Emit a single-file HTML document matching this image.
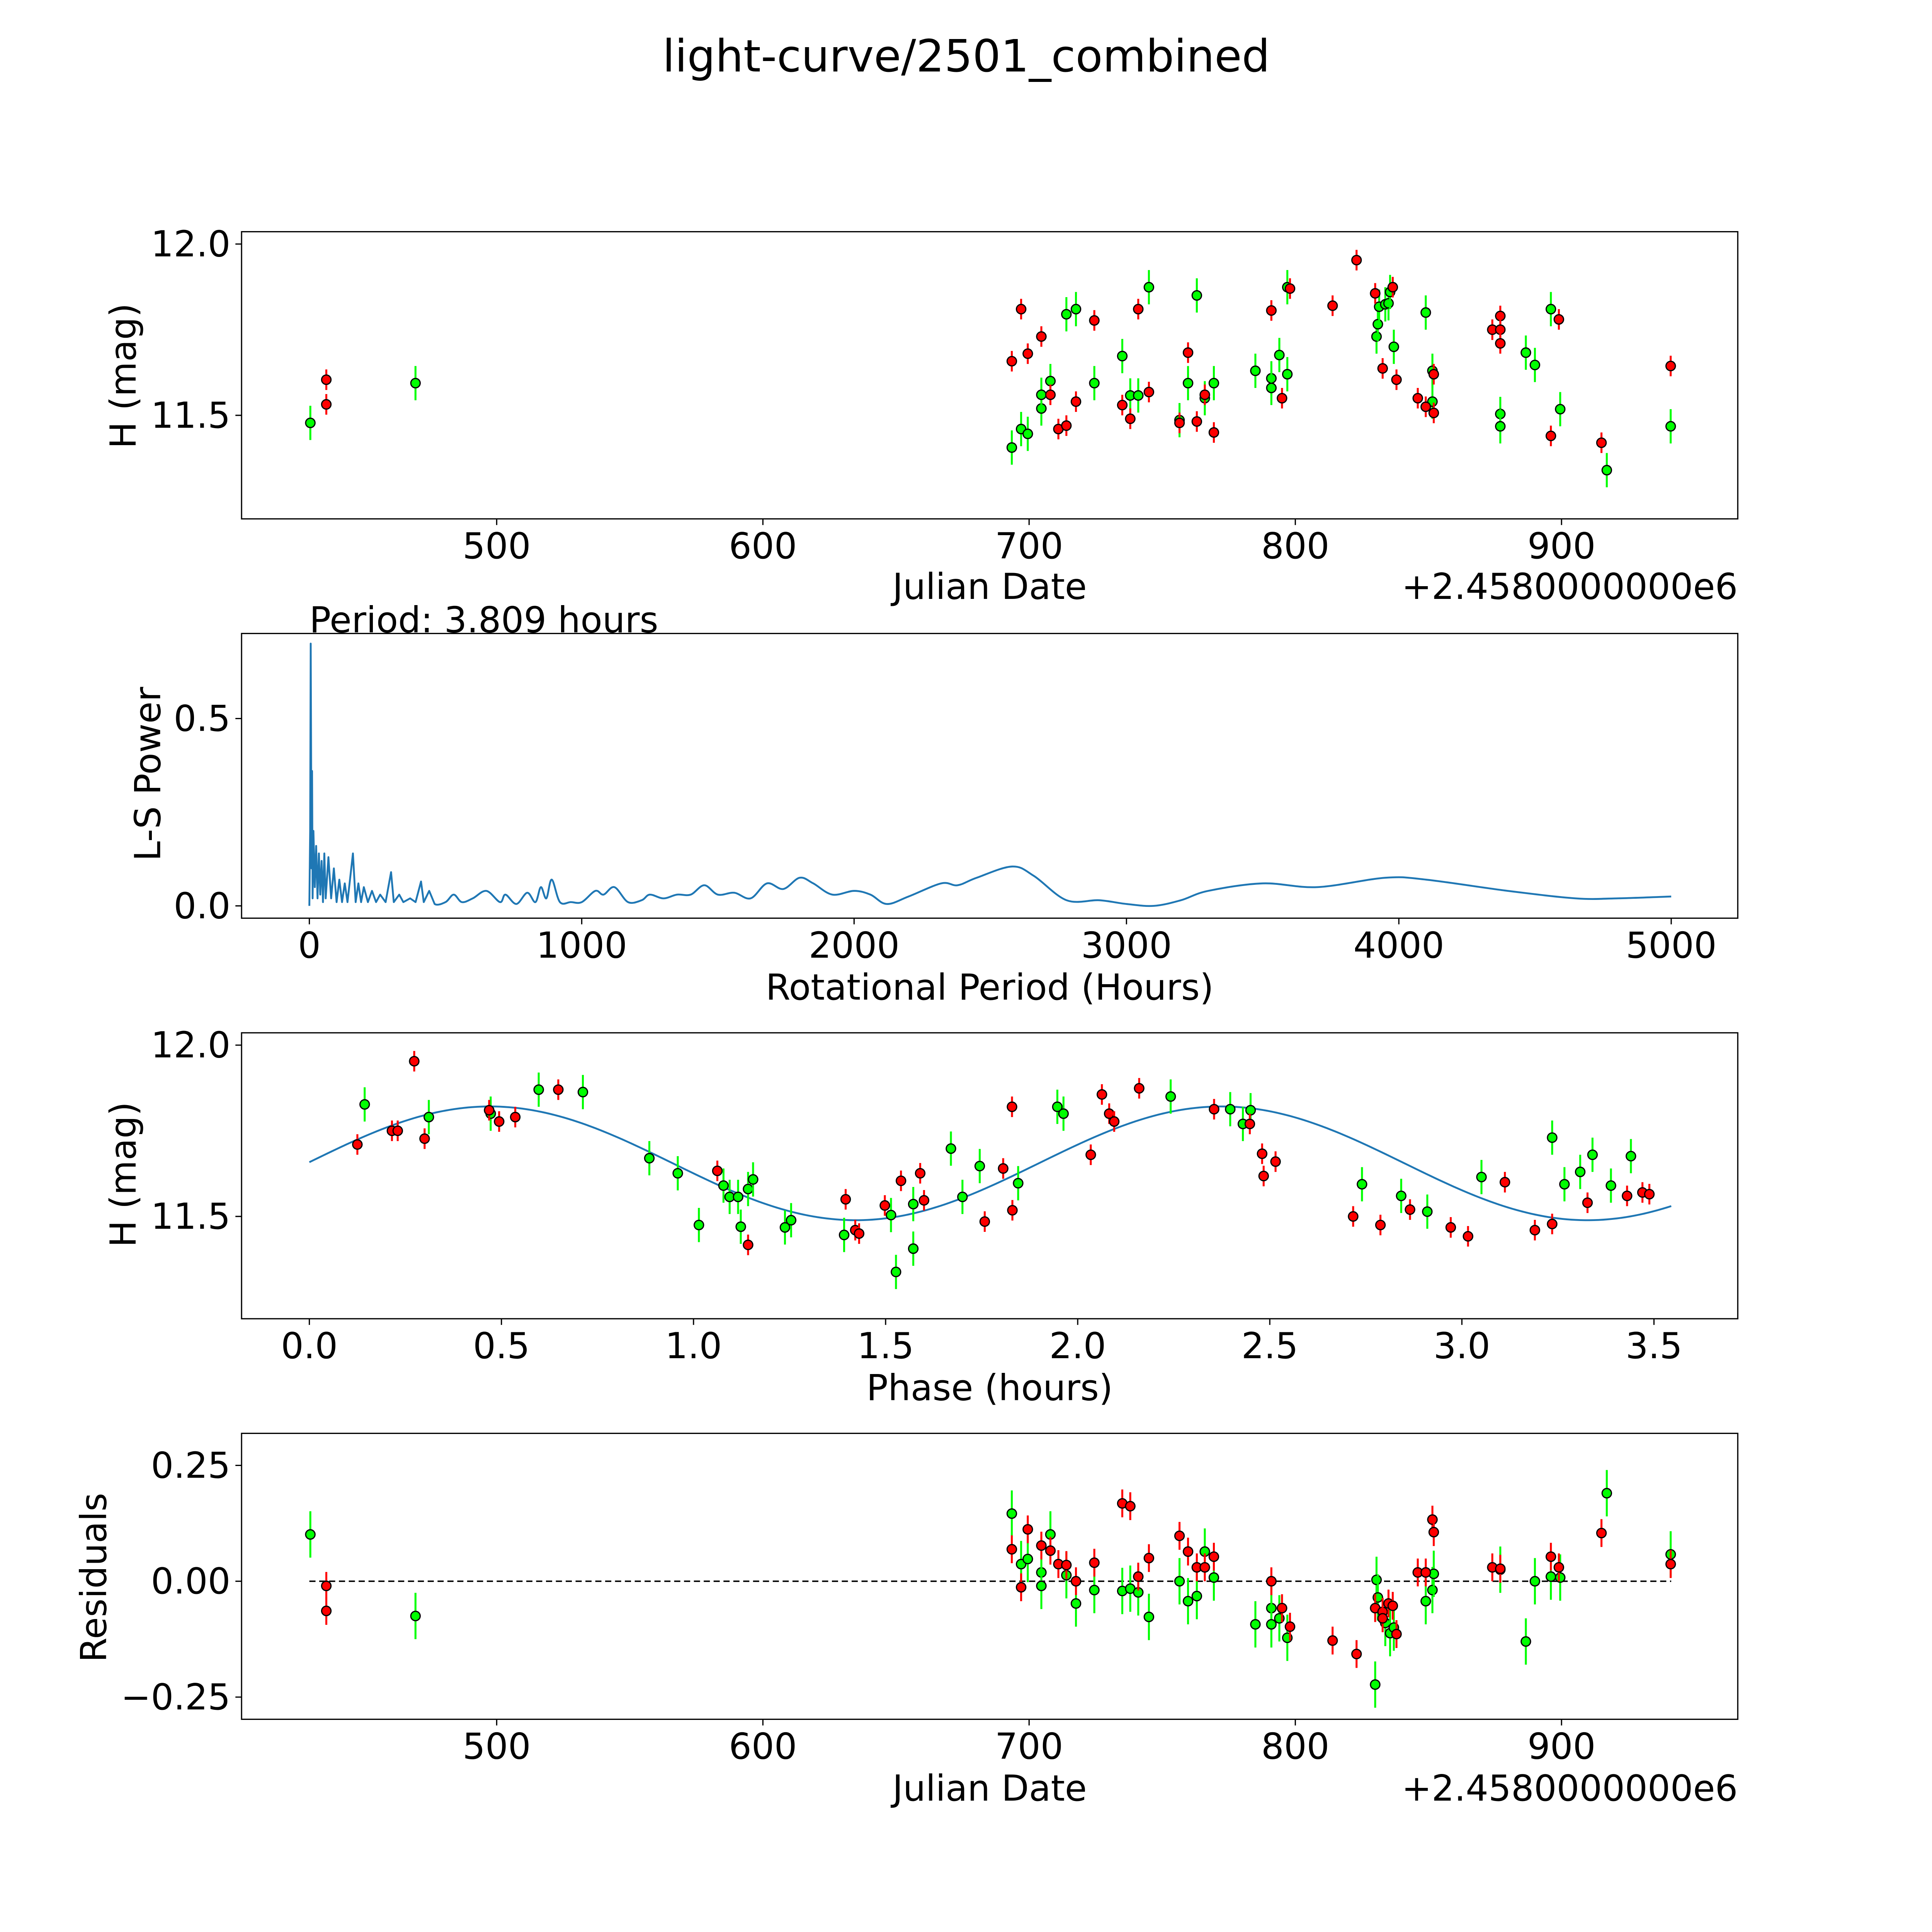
<!DOCTYPE html>
<html><head><meta charset="utf-8">
<style>
html,body{margin:0;padding:0;background:#fff;overflow:hidden;}
svg{display:block;}
text{font-family:"DejaVu Sans","Liberation Sans",sans-serif;fill:#000;}
</style></head>
<body>
<svg id="fig" width="5400" height="5400" viewBox="0 0 1693 1693" preserveAspectRatio="xMinYMin meet" xmlns="http://www.w3.org/2000/svg">
<rect width="1693" height="1693" fill="#fff"/>
<text x="784" y="58" font-size="36" text-anchor="middle">light-curve/2501_combined</text>
<g id="g1"></g>
<g id="g2"></g>
<g id="g3"></g>
<g id="g4"></g>
</svg>
<script>
const lcRedJd=[436,436,693.5,697,699.5,704.6,708,711,714,717.6,724.5,735,738,741,745,756.5,759.7,763,766,769.4,791,795,798,814,823,830,832.8,836.6,838,846,849,852,852,874,877,877,877,896,899,915,941];
const lcRedMag=[11.604,11.532,11.658,11.81,11.68,11.73,11.56,11.46,11.47,11.54,11.777,11.53,11.49,11.81,11.568,11.478,11.683,11.482,11.56,11.45,11.806,11.55,11.87,11.82,11.953,11.856,11.637,11.874,11.604,11.55,11.525,11.62,11.507,11.75,11.79,11.75,11.71,11.44,11.78,11.42,11.644];
const lcGreenJd=[430,469.5,693.5,697,699.5,704.6,704.6,708,714,717.6,724.5,735,738,741,745,756.5,759.7,763,766,769.4,785,791,791,794,797,797,830.5,831,831.5,833.8,835,835.6,837,849,851.5,851.5,877,877,886.6,890,896,899.5,917,941];
const lcGreenMag=[11.478,11.594,11.406,11.46,11.446,11.52,11.56,11.60,11.795,11.81,11.594,11.673,11.558,11.558,11.874,11.486,11.594,11.85,11.55,11.594,11.63,11.608,11.58,11.676,11.62,11.874,11.73,11.766,11.817,11.824,11.827,11.86,11.70,11.80,11.63,11.54,11.504,11.468,11.683,11.647,11.81,11.518,11.34,11.468];
const phRedP=[.125,.215,.23,.273,.30,.468,.494,.536,.648,1.062,1.142,1.396,1.421,1.431,1.498,1.54,1.59,1.6,1.758,1.806,1.829,1.83,2.034,2.063,2.082,2.095,2.16,2.355,2.448,2.48,2.484,2.515,2.717,2.788,2.865,2.971,3.016,3.112,3.19,3.235,3.327,3.43,3.47,3.488];
const phRedMag=[11.71,11.75,11.75,11.953,11.727,11.81,11.777,11.79,11.87,11.633,11.417,11.55,11.46,11.45,11.532,11.604,11.626,11.547,11.485,11.64,11.82,11.518,11.68,11.856,11.80,11.777,11.874,11.813,11.77,11.683,11.618,11.66,11.5,11.475,11.52,11.468,11.442,11.60,11.46,11.478,11.54,11.56,11.57,11.565];
const phGreenP=[.144,.311,.472,.597,.712,.885,.959,1.014,1.078,1.094,1.116,1.123,1.142,1.155,1.238,1.254,1.392,1.514,1.527,1.572,1.572,1.67,1.70,1.745,1.845,1.947,1.963,2.242,2.397,2.43,2.45,2.74,2.842,2.91,3.051,3.235,3.267,3.308,3.34,3.388,3.44];
const phGreenMag=[11.827,11.79,11.80,11.87,11.863,11.67,11.626,11.475,11.59,11.557,11.557,11.47,11.58,11.608,11.468,11.489,11.446,11.504,11.338,11.406,11.536,11.698,11.557,11.647,11.597,11.82,11.80,11.85,11.813,11.77,11.81,11.594,11.56,11.514,11.615,11.73,11.594,11.63,11.68,11.59,11.676];
const resRedJd=[436,436,693.5,697,699.5,704.6,708,711,714,717.6,724.5,735,738,741,745,756.5,759.7,763,766,769.4,791,795,798,814,823,830,832.8,832.8,835,836.6,838,846,849,851.5,852,874,877,896,899,915,941];
const resRedVal=[-0.01,-0.064,0.069,-0.013,0.112,0.077,0.066,0.037,0.035,0,0.04,0.168,0.162,0.01,0.05,0.098,0.064,0.03,0.03,0.053,0,-0.058,-0.098,-0.128,-0.157,-0.058,-0.066,-0.08,-0.048,-0.053,-0.114,0.019,0.019,0.133,0.106,0.03,0.027,0.053,0.03,0.104,0.037];
const resGreenJd=[430,469.5,693.5,697,699.5,704.6,704.6,708,714,717.6,724.5,735,738,741,745,756.5,759.7,763,766,769.4,785,791,791,794,797,830,830.5,831,833.8,835.6,837,849,851.5,852,877,886.6,890,896,899.5,917,941];
const resGreenVal=[0.101,-0.075,0.146,0.037,0.048,0.019,-0.01,0.101,0.013,-0.048,-0.019,-0.021,-0.016,-0.024,-0.077,0,-0.043,-0.032,0.064,0.008,-0.093,-0.058,-0.093,-0.08,-0.122,-0.223,0.003,-0.035,-0.09,-0.112,-0.1,-0.043,-0.019,0.016,0.025,-0.13,0,0.01,0.008,0.19,0.058];
const lsPeriod=[0,3,5,8,10,12,15,20,25,30,35,40,45,50,55,60,70,80,90,100,110,120,130,140,160,170,180,190,200,215,230,245,260,280,300,310,330,345,370,390,410,420,440,460,500,530,560,600,650,700,720,760,800,830,850,870,890,920,960,1000,1050,1080,1120,1170,1220,1250,1300,1350,1400,1450,1500,1560,1620,1680,1740,1800,1850,1920,2000,2060,2120,2200,2320,2380,2450,2580,2660,2780,2900,3000,3100,3200,3300,3500,3700,3950,4100,4400,4650,4800,5000];
const lsPower=[0,0.2,0.70,0.1,0.36,0.02,0.2,0.05,0.16,0.02,0.14,0.03,0.12,0.01,0.14,0.02,0.13,0.02,0.1,0.01,0.07,0.01,0.06,0.01,0.14,0.01,0.06,0.01,0.05,0.01,0.04,0.01,0.03,0.01,0.09,0.01,0.03,0.01,0.02,0.01,0.065,0.01,0.04,0.005,0.01,0.03,0.01,0.02,0.04,0.01,0.03,0.005,0.035,0.01,0.05,0.02,0.07,0.01,0.01,0.01,0.04,0.03,0.05,0.01,0.015,0.03,0.02,0.03,0.03,0.055,0.03,0.035,0.02,0.06,0.045,0.075,0.06,0.03,0.04,0.03,0.005,0.025,0.06,0.055,0.075,0.105,0.08,0.015,0.015,0.005,0.0,0.015,0.04,0.06,0.05,0.075,0.07,0.04,0.02,0.02,0.025];
const jdTicks=[500,600,700,800,900];
const magTicks=[11.5,12.0];
const lsXTicks=[0,1000,2000,3000,4000,5000];
const lsYTicks=[0.0,0.5];
const phTicks=[0.0,0.5,1.0,1.5,2.0,2.5,3.0,3.5];
const resTicks=[-0.25,0,0.25];
const errRed=0.03, errGreen=0.05;
const fitMean=11.655, fitAmp=0.166, fitHalfPeriod=1.9045, fitPhase=0.02, fitEnd=3.545;

const NS='http://www.w3.org/2000/svg';
const FS=29;
function mk(p,tag,at){const e=document.createElementNS(NS,tag);for(const k in at)e.setAttribute(k,at[k]);p.appendChild(e);return e;}
function lin(d0,d1,r0,r1){return v=>r0+(v-d0)*(r1-r0)/(d1-d0);}
const L=196,R=1410;
function frame(g,top,bot){const r=mk(g,'rect',{x:L,y:top,width:R-L,height:bot-top,fill:'none',stroke:'#000','stroke-width':1});
}
function xticks(g,ticks,sx,bot,fmt,name){ticks.forEach(t=>{const x=sx(t);mk(g,'line',{x1:x,x2:x,y1:bot,y2:bot+5,stroke:'#000'});
const tx=mk(g,'text',{x:x,y:bot+32,'font-size':FS,'text-anchor':'middle'});tx.textContent=fmt(t);
});}
function yticks(g,ticks,sy,fmt,name){ticks.forEach(t=>{const y=sy(t);mk(g,'line',{x1:L-5,x2:L,y1:y,y2:y,stroke:'#000'});
const tx=mk(g,'text',{x:L-9,y:y+10,'font-size':FS,'text-anchor':'end'});tx.textContent=fmt(t);
});}
function label(g,txt,x,y,rot,name,anchor){const t=mk(g,'text',{x:x,y:y,'font-size':FS,'text-anchor':anchor||'middle'});
if(rot)t.setAttribute('transform','rotate(-90 '+x+' '+y+')');t.textContent=txt;
}
function pts(g,xs,ys,sx,sy,err,col,name){xs.forEach((v,i)=>{const x=sx(v),y=sy(ys[i]);
const l=mk(g,'line',{x1:x,x2:x,y1:sy(ys[i]-err),y2:sy(ys[i]+err),stroke:col,'stroke-width':1.6});

const c=mk(g,'circle',{cx:x,cy:y,r:3.8,fill:col,stroke:'#000','stroke-width':1});
});}
const fmtMag=v=>v.toFixed(1);
const RED='#ff0000',GRN='#00ff00';

(function(){const g=document.getElementById('g1');const top=188,bot=421;
const sx=lin(500,900,403,1267),sy=lin(12.0,11.5,198,337);
frame(g,top,bot);xticks(g,jdTicks,sx,bot,String,'x-tick-label');yticks(g,magTicks,sy,fmtMag,'y-tick-label');
pts(g,lcGreenJd,lcGreenMag,sx,sy,errGreen,GRN,'green-obs');pts(g,lcRedJd,lcRedMag,sx,sy,errRed,RED,'red-obs');
label(g,'Julian Date',803,486,false,'x-axis-title');label(g,'+2.4580000000e6',R,486,false,'x-offset-label','end');
label(g,'H (mag)',110,305,true,'y-axis-title');})();

(function(){const g=document.getElementById('g2');const top=514,bot=745;
const sx=lin(0,5000,251,1356),sy=lin(0,0.5,735,583);
frame(g,top,bot);xticks(g,lsXTicks,sx,bot,String,'x-tick-label');yticks(g,lsYTicks,sy,fmtMag,'y-tick-label');
const px=lsPeriod.map(sx),py=lsPower.map(sy);
let d='M'+px[0].toFixed(2)+' '+py[0].toFixed(2);
for(let i=0;i<px.length-1;i++){
  if(lsPeriod[i]<450){d+=' L'+px[i+1].toFixed(2)+' '+py[i+1].toFixed(2);continue;}
  const p0=i>0?i-1:i,p3=i+2<px.length?i+2:i+1;
  const c1x=px[i]+(px[i+1]-px[p0])/6,c1y=py[i]+(py[i+1]-py[p0])/6;
  const c2x=px[i+1]-(px[p3]-px[i])/6,c2y=py[i+1]-(py[p3]-py[i])/6;
  d+=' C'+c1x.toFixed(2)+' '+c1y.toFixed(2)+' '+c2x.toFixed(2)+' '+c2y.toFixed(2)+' '+px[i+1].toFixed(2)+' '+py[i+1].toFixed(2);}
const pa=mk(g,'path',{d:d,fill:'none',stroke:'#1f77b4','stroke-width':1.5,'stroke-linejoin':'round'});

label(g,'Rotational Period (Hours)',803,811,false,'x-axis-title');label(g,'L-S Power',130,628,true,'y-axis-title');
label(g,'Period: 3.809 hours',251,513,false,'period-annotation','start');})();

(function(){const g=document.getElementById('g3');const top=838,bot=1070;
const sx=lin(0,3.5,251,1342),sy=lin(12.0,11.5,848,987);
frame(g,top,bot);xticks(g,phTicks,sx,bot,v=>v.toFixed(1),'x-tick-label');yticks(g,magTicks,sy,fmtMag,'y-tick-label');
let d='';for(let i=0;i<=300;i++){const p=fitEnd*i/300;const m=fitMean+fitAmp*Math.sin(2*Math.PI*p/fitHalfPeriod+fitPhase);
d+=(i?'L':'M')+sx(p).toFixed(2)+' '+sy(m).toFixed(2)+' ';}
const pa=mk(g,'path',{d:d,fill:'none',stroke:'#1f77b4','stroke-width':1.5});

pts(g,phGreenP,phGreenMag,sx,sy,errGreen,GRN,'green-phase');pts(g,phRedP,phRedMag,sx,sy,errRed,RED,'red-phase');
label(g,'Phase (hours)',803,1136,false,'x-axis-title');label(g,'H (mag)',110,953,true,'y-axis-title');})();

(function(){const g=document.getElementById('g4');const top=1163,bot=1395;
const sx=lin(500,900,403,1267),sy=lin(0,0.25,1283,1189);
frame(g,top,bot);xticks(g,jdTicks,sx,bot,String,'x-tick-label');
yticks(g,resTicks,sy,v=>v===0?'0.00':(v<0?'\u22120.25':'0.25'),'y-tick-label');
const zl=mk(g,'line',{x1:251,x2:1356,y1:sy(0),y2:sy(0),stroke:'#000','stroke-width':1.2,'stroke-dasharray':'5,3'});

pts(g,resGreenJd,resGreenVal,sx,sy,errGreen,GRN,'green-residual');pts(g,resRedJd,resRedVal,sx,sy,errRed,RED,'red-residual');
label(g,'Julian Date',803,1461,false,'x-axis-title');label(g,'+2.4580000000e6',R,1461,false,'x-offset-label','end');
label(g,'Residuals',86,1280,true,'y-axis-title');})();
</script>
</body></html>
